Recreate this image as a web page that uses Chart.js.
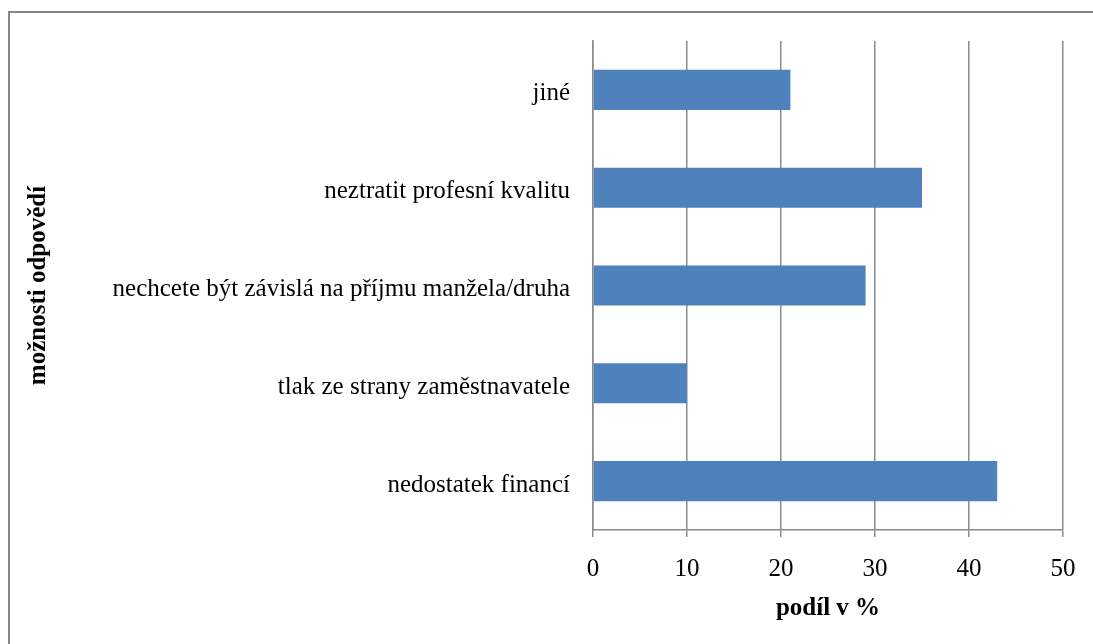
<!DOCTYPE html>
<html>
<head>
<meta charset="utf-8">
<script src="https://cdn.jsdelivr.net/npm/chart.js@4"></script>
<style>
  body { margin: 0; background: #fff; }
  #wrap { width: 1093px; height: 644px; position: relative; }
</style>
</head>
<body>
<div id="wrap"><canvas id="chart" width="1093" height="644"></canvas></div>
<script>
// Data (top to bottom)
const categories = [
  'jiné',
  'neztratit profesní kvalitu',
  'nechcete být závislá na příjmu manžela/druha',
  'tlak ze strany zaměstnavatele',
  'nedostatek financí'
];
const shares = [21, 35, 29, 10, 43];
const xTicks = [0, 10, 20, 30, 40, 50];

const gridGray = '#8a8a8a';
const fontFamily = '"Liberation Serif", "Times New Roman", serif';

// outer frame of the chart object (only top and left edges are visible)
const framePlugin = {
  id: 'frame',
  beforeDraw(chart) {
    const ctx = chart.ctx;
    ctx.save();
    ctx.fillStyle = '#fff';
    ctx.fillRect(0, 0, chart.width, chart.height);
    ctx.strokeStyle = '#868686';
    ctx.lineWidth = 2;
    ctx.strokeRect(9, 12, 3000, 3000);
    ctx.restore();
  }
};

const ctx = document.getElementById('chart').getContext('2d');
new Chart(ctx, {
  type: 'bar',
  data: {
    labels: categories,
    datasets: [{
      data: shares,
      backgroundColor: '#4F81BD',
      borderWidth: 0,
      barPercentage: 0.41,
      categoryPercentage: 1
    }]
  },
  options: {
    indexAxis: 'y',
    responsive: false,
    animation: false,
    layout: { padding: { left: 20, top: 41, right: 30, bottom: 16 } },
    plugins: { legend: { display: false }, tooltip: { enabled: false } },
    scales: {
      x: {
        min: 0,
        max: 50,
        afterBuildTicks(scale) {
          scale.ticks = xTicks.map(v => ({ value: v }));
        },
        afterFit(scale) { scale.height = 98; },
        grid: { color: gridGray, lineWidth: 1.5, tickLength: 7, drawTicks: true },
        border: { display: true, color: gridGray, width: 1.5 },
        ticks: { color: '#000', padding: 17, font: { family: fontFamily, size: 25 } },
        title: {
          display: true,
          text: 'podíl v %',
          color: '#000',
          font: { family: fontFamily, size: 25, weight: 'bold' }
        }
      },
      y: {
        afterFit(scale) { scale.width = 573; },
        grid: { display: false, drawTicks: false },
        border: { display: true, color: gridGray, width: 1.5 },
        ticks: { color: '#000', padding: 23, labelOffset: 4, font: { family: fontFamily, size: 25 } },
        title: {
          display: true,
          text: 'možnosti odpovědí',
          color: '#000',
          font: { family: fontFamily, size: 25, weight: 'bold' }
        }
      }
    }
  },
  plugins: [framePlugin]
});
</script>
</body>
</html>
